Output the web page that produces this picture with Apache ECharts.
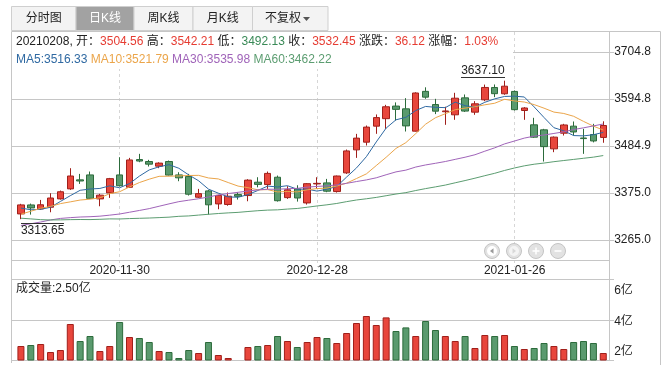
<!DOCTYPE html>
<html><head><meta charset="utf-8">
<script src="https://cdn.jsdelivr.net/npm/echarts@6.0.0/dist/echarts.min.js"></script>
<style>html,body{margin:0;padding:0;background:#fff;overflow:hidden}#c{width:666px;height:374px}</style>
</head><body><div id="c"></div>
<script>
// ---------------- data ----------------
const dates = ['2020-11-16','2020-11-17','2020-11-18','2020-11-19','2020-11-20','2020-11-23','2020-11-24','2020-11-25','2020-11-26','2020-11-27',
'2020-11-30','2020-12-01','2020-12-02','2020-12-03','2020-12-04','2020-12-07','2020-12-08','2020-12-09','2020-12-10','2020-12-11',
'2020-12-14','2020-12-15','2020-12-16','2020-12-17','2020-12-18','2020-12-21','2020-12-22','2020-12-23','2020-12-24','2020-12-25',
'2020-12-28','2020-12-29','2020-12-30','2020-12-31','2021-01-04','2021-01-05','2021-01-06','2021-01-07','2021-01-08','2021-01-11',
'2021-01-12','2021-01-13','2021-01-14','2021-01-15','2021-01-18','2021-01-19','2021-01-20','2021-01-21','2021-01-22','2021-01-25',
'2021-01-26','2021-01-27','2021-01-28','2021-01-29','2021-02-01','2021-02-02','2021-02-03','2021-02-04','2021-02-05','2021-02-08'];
const opens = [3325.9,3346.9,3337.6,3341.5,3361.0,3384.4,3405.5,3417.0,3361.0,3375.0,
3417.0,3388.2,3452.9,3448.3,3437.4,3448.3,3417.0,3413.2,3364.9,3379.7,
3349.3,3348.0,3371.1,3368.8,3400.0,3394.5,3411.6,3364.0,3384.4,3351.6,
3396.0,3398.4,3378.1,3421.8,3475.5,3493.5,3530.9,3548.4,3577.8,3571.4,
3519.2,3612.2,3581.4,3564.6,3557.4,3597.0,3563.6,3592.4,3621.2,3606.5,
3612.0,3567.5,3534.0,3522.3,3477.9,3514.5,3530.9,3503.3,3511.4,3504.56];
const closes = [3346.97,3339.90,3347.30,3363.09,3377.73,3414.49,3402.82,3362.33,3369.73,3408.31,
3391.76,3451.94,3449.38,3442.14,3444.58,3416.60,3410.18,3371.96,3373.28,3347.19,
3369.12,3367.23,3366.98,3404.87,3394.90,3420.57,3356.78,3382.32,3363.11,3396.56,
3397.29,3379.04,3414.45,3473.07,3502.96,3528.68,3550.88,3576.20,3570.11,3531.50,
3608.34,3598.65,3565.90,3566.38,3596.22,3566.09,3583.09,3621.26,3606.75,3624.24,
3569.43,3573.34,3505.18,3483.07,3505.25,3533.68,3517.31,3501.86,3496.33,3532.45];
const lows = [3313.65,3324.3,3335.5,3329.8,3359.4,3382.0,3396.0,3361.0,3343.8,3363.3,
3389.8,3387.0,3446.7,3436.6,3432.7,3415.5,3402.3,3368.8,3363.3,3324.3,
3336.8,3345.0,3359.5,3355.5,3388.0,3384.4,3354.7,3361.0,3354.7,3347.7,
3384.4,3376.6,3375.8,3419.4,3456.8,3485.7,3513.0,3524.6,3544.1,3518.4,
3518.4,3594.8,3559.0,3534.0,3545.7,3564.0,3557.4,3589.3,3598.7,3604.2,
3567.5,3545.7,3503.6,3448.3,3470.1,3509.0,3509.0,3466.2,3493.0,3492.13];
const highs = [3349.5,3350.0,3358.6,3374.2,3380.5,3432.7,3419.4,3424.9,3372.7,3410.0,
3458.4,3456.8,3466.2,3452.2,3446.5,3450.6,3423.3,3419.4,3384.4,3382.0,
3370.5,3376.0,3376.6,3407.0,3411.6,3424.9,3415.5,3390.6,3392.9,3398.0,
3411.6,3407.7,3415.5,3476.3,3512.9,3532.4,3558.2,3580.7,3586.4,3596.3,
3610.0,3621.6,3594.7,3576.3,3608.8,3604.9,3589.3,3628.0,3628.3,3637.10,
3614.3,3575.3,3550.4,3524.6,3506.8,3536.3,3541.8,3524.6,3536.3,3542.21];
const ma5 = [3339.62,3335.57,3336.59,3341.47,3355.00,3368.50,3381.09,3384.09,3385.42,3391.54,
3386.99,3396.81,3414.22,3428.71,3435.96,3440.93,3432.58,3417.09,3403.32,3383.84,
3374.35,3365.76,3364.76,3371.08,3380.62,3390.91,3388.82,3391.89,3383.54,3383.87,
3379.21,3383.66,3390.09,3412.08,3433.36,3459.64,3494.01,3526.36,3545.77,3551.47,
3567.41,3576.96,3574.90,3574.15,3587.10,3578.65,3575.54,3586.61,3594.68,3600.29,
3600.95,3599.00,3575.79,3551.05,3527.25,3520.10,3508.90,3508.23,3510.89,3516.33];
const ma10 = [3325.26,3332.15,3339.13,3343.43,3349.99,3354.06,3358.33,3360.34,3363.45,3373.27,
3377.75,3388.95,3399.16,3407.06,3413.75,3413.96,3414.70,3415.66,3416.01,3409.90,
3407.64,3399.17,3390.93,3387.20,3382.23,3382.63,3377.29,3378.32,3377.31,3382.24,
3385.06,3386.24,3390.99,3397.81,3408.62,3419.43,3438.84,3458.22,3478.92,3492.42,
3513.52,3535.48,3550.63,3559.96,3569.29,3573.03,3576.25,3580.75,3584.42,3593.69,
3589.80,3587.27,3581.20,3572.87,3563.77,3560.53,3553.95,3542.01,3530.97,3521.79];
const ma30 = [3298.84,3302.92,3307.02,3311.85,3315.37,3317.24,3318.68,3319.41,3320.66,3323.06,
3325.70,3329.83,3333.98,3338.30,3343.85,3349.37,3354.57,3357.99,3361.34,3365.43,
3370.23,3373.44,3376.42,3379.24,3382.00,3383.56,3383.45,3384.79,3385.60,3388.47,
3390.15,3391.45,3393.69,3397.36,3401.53,3405.34,3410.27,3417.40,3424.08,3428.19,
3435.41,3440.30,3444.18,3448.32,3453.38,3458.36,3464.12,3472.43,3480.22,3489.45,
3496.13,3503.00,3507.61,3510.21,3513.89,3517.66,3523.01,3527.00,3531.44,3535.98];
const ma60 = [3315.91,3314.27,3312.54,3311.79,3312.02,3312.58,3312.87,3312.68,3313.35,3314.31,
3314.11,3315.05,3315.69,3316.32,3317.31,3318.33,3320.29,3321.22,3323.19,3325.07,
3326.88,3328.35,3329.54,3331.56,3333.41,3334.79,3335.45,3337.25,3338.64,3341.53,
3344.49,3347.18,3350.35,3354.60,3358.45,3361.29,3364.47,3368.40,3372.37,3375.62,
3380.55,3385.06,3389.08,3393.31,3398.61,3403.86,3409.34,3415.21,3420.77,3427.43,
3433.17,3438.21,3442.01,3444.72,3447.94,3450.61,3453.23,3455.89,3458.51,3462.22];
// volume in 亿
const volumes = [2.85,2.90,2.95,2.55,2.65,3.95,3.10,3.35,2.60,2.85,
4.05,3.30,3.25,3.05,2.60,2.55,2.25,2.65,2.50,3.05,
2.40,2.25,2.17,2.80,2.85,2.90,3.35,3.10,2.80,3.05,
3.30,3.25,3.00,3.50,4.00,4.35,3.90,4.28,3.60,3.78,
3.35,4.10,3.65,3.35,3.10,3.35,2.75,3.40,3.35,3.40,
2.85,2.70,2.75,3.00,2.85,2.70,3.05,3.10,3.00,2.50];
const priceTicks = ['3265.0','3375.0','3484.9','3594.8','3704.8'];
const volTicks = ['2亿','4亿','6亿'];
const tabNames = ['分时图','日K线','周K线','月K线','不复权'];

// ---------------- styles / layout ----------------
const FONT = '"Liberation Sans", "Noto Sans CJK SC", sans-serif';
const UP = '#e8463c', UP_B = '#a01f1a', DN = '#5a9a6e', DN_B = '#2c6b3b';
const RED_T = '#e63c32', GREEN_T = '#3a8a57', TXT = '#222';
const MA_C = ['#2f69a2', '#eba54a', '#a064b9', '#5c9d71'];
const GRID_C = '#c6c6c6', DASH_C = '#d6d6d6';
const PRICE_MIN = 3265, PRICE_STEP = 109.95, PRICE_MAX = PRICE_MIN + 4 * PRICE_STEP;
const VOL_MIN = 2.15, VOL_STEP = 2.025, VOL_MAX = VOL_MIN + 2 * VOL_STEP;
const GL = 16, GW = 592.2;
const labelIdx = (i) => i % 20 === 10;

const chart = echarts.init(document.getElementById('c'), null, {renderer: 'canvas', width: 666, height: 374});

const kData = dates.map((d, i) => [opens[i], closes[i], lows[i], highs[i]]);
const vData = volumes.map((v, i) => {
  const up = closes[i] >= opens[i];
  return {value: v, itemStyle: {color: up ? UP : DN, borderColor: up ? UP_B : DN_B, borderWidth: 1}};
});
const maSeries = [ma5, ma10, ma30, ma60].map((arr, k) => ({
  type: 'line', name: ['MA5','MA10','MA30','MA60'][k], xAxisIndex: 1, yAxisIndex: 1, data: arr,
  symbol: 'none', z: 4, silent: true, lineStyle: {width: 1, color: MA_C[k]}
}));

const option = {
  animation: false,
  backgroundColor: '#fff',
  textStyle: {fontFamily: FONT},
  grid: [
    {left: 20.9, top: 32, width: 582.6, height: 228, containLabel: false, outerBoundsMode: 'none'},
    {left: GL, top: 51.7, width: GW, height: 188.3, containLabel: false, outerBoundsMode: 'none'},
    {left: GL, top: 279, width: GW, height: 81, containLabel: false, outerBoundsMode: 'none'}
  ],
  xAxis: [
    {gridIndex: 0, type: 'category', data: dates, boundaryGap: false,
     axisLine: {show: false},
     axisTick: {show: true, interval: (i) => labelIdx(i), length: 7, lineStyle: {color: DASH_C, type: [3, 3]}},
     axisLabel: {interval: (i) => labelIdx(i), color: '#222', fontSize: 12, margin: 5, fontFamily: FONT},
     splitLine: {show: true, interval: (i) => labelIdx(i), lineStyle: {color: DASH_C, type: [3, 3]}}},
    {gridIndex: 1, type: 'category', data: dates, boundaryGap: true, show: false},
    {gridIndex: 2, type: 'category', data: dates, boundaryGap: true, show: false}
  ],
  yAxis: [
    {gridIndex: 0, type: 'value', min: 0, max: 1, show: false},
    {gridIndex: 1, type: 'value', position: 'right', min: PRICE_MIN, max: PRICE_MAX, interval: PRICE_STEP,
     axisLine: {show: false}, axisTick: {show: false}, splitLine: {show: false},
     axisLabel: {margin: 6, color: '#222', fontSize: 12, fontFamily: FONT,
       formatter: (v) => priceTicks[Math.round((v - PRICE_MIN) / PRICE_STEP)] || ''}},
    {gridIndex: 2, type: 'value', position: 'right', min: VOL_MIN, max: VOL_MAX, interval: VOL_STEP,
     axisLine: {show: false}, axisTick: {show: false}, splitLine: {show: false},
     axisLabel: {margin: 6, color: '#222', fontSize: 12, fontFamily: FONT,
       formatter: (v) => { const k = Math.round((v - VOL_MIN) / VOL_STEP); return '{v' + k + '|' + (volTicks[k] || '') + '}'; },
       rich: {
         v0: {padding: [0, 0, 16, 0], fontSize: 12, color: '#222', fontFamily: FONT},
         v1: {padding: [5, 0, 0, 0], fontSize: 12, color: '#222', fontFamily: FONT},
         v2: {padding: [24, 0, 0, 0], fontSize: 12, color: '#222', fontFamily: FONT}
       }}}
  ],
  series: [
    {type: 'candlestick', xAxisIndex: 1, yAxisIndex: 1, data: kData, barWidth: 7, z: 3, silent: true,
     itemStyle: {color: UP, color0: DN, borderColor: UP_B, borderColor0: DN_B, borderWidth: 1}},
    ...maSeries,
    {type: 'bar', xAxisIndex: 2, yAxisIndex: 2, data: vData, barWidth: 7, z: 3, silent: true}
  ]
};
chart.setOption(option);

// ---------------- frame, grid lines, texts ----------------
const crisp = (v) => Math.round(v) + 0.5;
const line = (x1, y1, x2, y2, color, z) => ({type: 'line', silent: true, z: z || 1,
  shape: {x1, y1, x2, y2}, style: {stroke: color || GRID_C, lineWidth: 1}});
const text = (x, y, str, opt) => Object.assign({type: 'text', silent: true, x, y, z: 12,
  style: Object.assign({text: str, fontSize: 12, fontFamily: FONT, fill: TXT, align: 'left', verticalAlign: 'middle'}, (opt || {}).style || {})},
  opt && opt.z ? {z: opt.z} : {});

const els = [];
// white cover under the info rows
els.push({type: 'rect', silent: true, z: 10, shape: {x: 12, y: 32, width: 501, height: 37}, style: {fill: '#fff'}});
// frame
els.push(line(11.5, 31.5, 660.5, 31.5));
els.push(line(11.5, 31.5, 11.5, 363));
els.push(line(609.5, 31.5, 609.5, 361));
els.push(line(660.5, 31.5, 660.5, 365));
els.push(line(11.5, 260.5, 609.5, 260.5));
// price grid lines
priceTicks.forEach((t, k) => {
  const y = crisp(chart.convertToPixel({yAxisIndex: 1}, PRICE_MIN + k * PRICE_STEP));
  els.push(line(k === priceTicks.length - 1 ? 513 : 11.5, y, 614, y));
});
// volume grid lines
volTicks.forEach((t, k) => {
  const y = crisp(chart.convertToPixel({yAxisIndex: 2}, VOL_MIN + k * VOL_STEP));
  els.push(line(11.5, y, 614, y));
});

// tabs
const tabX = [11.5, 76, 134, 193, 252.5, 328];
tabNames.forEach((name, i) => {
  const sel = i === 1;
  els.push({type: 'rect', silent: true, z: 5, shape: {x: tabX[i], y: 6.5, width: tabX[i + 1] - tabX[i], height: 24},
    style: {fill: sel ? '#a2a2a2' : '#f3f3f3', stroke: '#cfcfcf', lineWidth: 1}});
  const cx = i === 4 ? 283 : (tabX[i] + tabX[i + 1]) / 2;
  els.push({type: 'text', silent: true, z: 6, x: cx, y: 19,
    style: {text: name, fontSize: 12, fontFamily: FONT, fill: sel ? '#fff' : '#222', align: 'center', verticalAlign: 'middle'}});
});
els.push({type: 'polygon', silent: true, z: 6, shape: {points: [[303, 17], [310, 17], [306.5, 21]]}, style: {fill: '#555'}});

// info row
const n = dates.length - 1;
const chg = closes[n] - closes[n - 1];
const pct = chg / closes[n - 1] * 100;
const rs = (c) => ({fill: c, fontSize: 12, fontFamily: FONT});
els.push({type: 'text', silent: true, z: 12, x: 16, y: 42, style: {
  text: '{k|' + dates[n].replace(/-/g, '') + ', 开：}{r|' + opens[n].toFixed(2) + '}{k| 高：}{r|' + highs[n].toFixed(2) +
        '}{k| 低：}{g|' + lows[n].toFixed(2) + '}{k| 收：}{r|' + closes[n].toFixed(2) + '}{k| 涨跌：}{r|' + chg.toFixed(2) +
        '}{k| 涨幅：}{r|' + pct.toFixed(2) + '%}',
  verticalAlign: 'middle', align: 'left', fontSize: 12, fontFamily: FONT,
  rich: {k: rs(TXT), r: rs(RED_T), g: rs(GREEN_T)}}});
els.push({type: 'text', silent: true, z: 12, x: 16, y: 59.5, style: {
  text: '{a|MA5:' + ma5[n].toFixed(2) + '} {b|MA10:' + ma10[n].toFixed(2) + '} {c|MA30:' + ma30[n].toFixed(2) + '} {d|MA60:' + ma60[n].toFixed(2) + '}',
  verticalAlign: 'middle', align: 'left', fontSize: 12, fontFamily: FONT,
  rich: {a: rs(MA_C[0]), b: rs(MA_C[1]), c: rs(MA_C[2]), d: rs(MA_C[3])}}});
// volume title
els.push({type: 'text', silent: true, z: 12, x: 16, y: 288.5, style: {
  text: '成交量:' + volumes[n].toFixed(2) + '亿', fontSize: 12, fontFamily: FONT, fill: TXT, align: 'left', verticalAlign: 'middle'}});

// min / max markers
let minI = 0, maxI = 0;
lows.forEach((v, i) => { if (v < lows[minI]) minI = i; });
highs.forEach((v, i) => { if (v > highs[maxI]) maxI = i; });
const ctx = document.createElement('canvas').getContext('2d');
ctx.font = '12px "Liberation Sans"';
const pLow = chart.convertToPixel({gridIndex: 1}, [minI, lows[minI]]);
const pHigh = chart.convertToPixel({gridIndex: 1}, [maxI, highs[maxI]]);
const lowTxt = lows[minI].toFixed(2), highTxt = highs[maxI].toFixed(2);
const wl = ctx.measureText(lowTxt).width, wh = ctx.measureText(highTxt).width;
els.push(line(Math.round(pLow[0]), crisp(pLow[1] + 3.5), Math.round(pLow[0] + wl), crisp(pLow[1] + 3.5), '#333', 12));
els.push({type: 'text', silent: true, z: 12, x: pLow[0], y: pLow[1] + 12, style: {text: lowTxt, fontSize: 12, fontFamily: FONT, fill: TXT, align: 'left', verticalAlign: 'middle'}});
els.push(line(Math.round(pHigh[0] - wh), crisp(pHigh[1] - 3.5), Math.round(pHigh[0]), crisp(pHigh[1] - 3.5), '#333', 12));
els.push({type: 'text', silent: true, z: 12, x: pHigh[0], y: pHigh[1] - 9.5, style: {text: highTxt, fontSize: 12, fontFamily: FONT, fill: TXT, align: 'right', verticalAlign: 'middle'}});

// navigation buttons
const navX = [492, 514, 536, 558], navY = 251;
navX.forEach((x, i) => {
  els.push({type: 'circle', silent: true, z: 8, shape: {cx: x, cy: navY, r: 7.5}, style: {fill: '#e2e2e2', stroke: '#c4c4c4', lineWidth: 1}});
  const c = i === 1 ? '#f4f4f4' : '#ffffff';
  if (i < 2) {
    els.push({type: 'circle', silent: true, z: 9, shape: {cx: x, cy: navY, r: 5}, style: {fill: c}});
    const pts = i === 0 ? [[x + 1.5, navY - 2.8], [x + 1.5, navY + 2.8], [x - 2, navY]] : [[x - 1.5, navY - 2.8], [x - 1.5, navY + 2.8], [x + 2, navY]];
    els.push({type: 'polygon', silent: true, z: 10, shape: {points: pts}, style: {fill: i === 0 ? '#9a9a9a' : '#d8d8d8'}});
  } else {
    els.push({type: 'line', silent: true, z: 10, shape: {x1: x - 3.5, y1: navY, x2: x + 3.5, y2: navY}, style: {stroke: '#fff', lineWidth: 1.6}});
    if (i === 2) els.push({type: 'line', silent: true, z: 10, shape: {x1: x, y1: navY - 3.5, x2: x, y2: navY + 3.5}, style: {stroke: '#fff', lineWidth: 1.6}});
  }
});

chart.setOption({graphic: {elements: els}});
</script>
</body></html>
